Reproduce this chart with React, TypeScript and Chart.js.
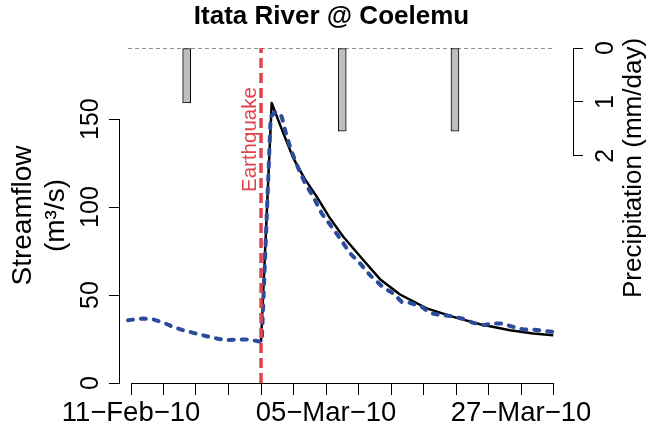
import React, { useEffect, useRef } from "react";
import { Chart, registerables } from "chart.js";

Chart.register(...registerables);

// ---- data (x = days since 11-Feb-10) ----
const obsDays = [-0.34, 1.39, 2.52, 3.64, 4.74, 5.9, 7.03, 8.54, 9.67, 10.8, 11.9, 13.05, 14.2, 14.75, 15.76, 16.36, 17.0, 17.57, 18.13, 18.87, 19.63, 20.57, 21.5, 22.64, 23.58, 24.71, 25.84, 26.96, 28.46, 29.59, 30.54, 31.47, 32.79, 33.73, 34.86, 36.18, 37.31, 38.62, 39.75, 40.87, 41.82, 43.13, 44.26, 45.39, 46.52, 47.83];
const obsFlow = [35.7, 36.7, 36.1, 34.4, 31.9, 30.0, 28.5, 26.6, 25.3, 24.3, 24.7, 24.7, 23.9, 23.3, 151.5, 154.2, 151.5, 140.1, 131.5, 122.1, 113.6, 105.9, 96.5, 88.8, 82.2, 73.7, 68.0, 61.3, 54.3, 50.9, 46.1, 45.6, 43.3, 39.9, 38.6, 38.0, 36.7, 34.2, 32.9, 33.8, 33.8, 31.9, 30.4, 30.4, 29.6, 28.9];

const simDays = [14.67, 15.87, 17.18, 18.31, 19.6, 20.95, 22.4, 23.95, 26.2, 28.09, 30.35, 33.36, 36.36, 39.37, 42.76, 45.39, 47.64];
const simFlow = [23.3, 159.1, 142.0, 127.8, 116.0, 105.9, 94.0, 83.1, 69.9, 59.0, 50.3, 42.4, 37.6, 33.4, 30.0, 28.1, 27.2];

const precipDays = [6.28, 23.83, 36.55];
const precipVals = [1.02, 1.54, 1.54];

const earthquakeDay = 14.67;

const xTickDays = [0, 3.667, 7.333, 11, 14.667, 18.333, 22, 25.667, 29.333, 33, 36.667, 40.333, 44, 47.667];
const xTickLabels = ["11\u2212Feb\u221210", "", "", "", "", "", "05\u2212Mar\u221210", "", "", "", "", "", "27\u2212Mar\u221210", ""];
const flowTicks = [0, 50, 100, 150];
const precipTicks = [0, 1, 2];

const FONT = "'Liberation Sans', Arial, Helvetica, sans-serif";
const RED = "#e0454f";
const BLUE = "#2b4c9b";

export default function App() {
  const ref = useRef<HTMLCanvasElement | null>(null);

  useEffect(() => {
    document.body.style.margin = "0";
    const canvas = ref.current;
    if (!canvas) return;

    Chart.defaults.font.family = FONT;
    Chart.defaults.color = "#000";

    const flowMax = 190.4;
    const precipMax = 6.21;
    const xMin = -1.241;
    const xMax = 49.865;

    const decor = {
      id: "decor",
      afterDraw(chart: any) {
        const ctx = chart.ctx as CanvasRenderingContext2D;
        const { x, y, y2 } = chart.scales;
        const ca = chart.chartArea;
        ctx.save();
        // R-style axis lines spanning only the tick range
        ctx.strokeStyle = "#000";
        ctx.lineWidth = 1;
        ctx.beginPath();
        const yb = Math.round(ca.bottom) + 0.5;
        ctx.moveTo(x.getPixelForValue(xTickDays[0]), yb);
        ctx.lineTo(x.getPixelForValue(xTickDays[xTickDays.length - 1]), yb);
        const xl = Math.round(ca.left) - 0.5;
        ctx.moveTo(xl, y.getPixelForValue(flowTicks[0]));
        ctx.lineTo(xl, y.getPixelForValue(flowTicks[flowTicks.length - 1]));
        const xr = Math.round(ca.right) + 0.5;
        ctx.moveTo(xr, y2.getPixelForValue(precipTicks[0]));
        ctx.lineTo(xr, y2.getPixelForValue(precipTicks[precipTicks.length - 1]));
        ctx.stroke();

        // main title
        ctx.fillStyle = "#000";
        ctx.font = `bold 26px ${FONT}`;
        ctx.textAlign = "center";
        ctx.textBaseline = "middle";
        ctx.fillText("Itata River @ Coelemu", 331.5, 17);

        // right axis title (reads bottom to top)
        ctx.save();
        ctx.translate(634, 168);
        ctx.rotate(-Math.PI / 2);
        ctx.font = `26px ${FONT}`;
        ctx.fillText("Precipitation (mm/day)", 0, 0);
        ctx.restore();

        // earthquake label
        const ex = x.getPixelForValue(earthquakeDay);
        ctx.save();
        ctx.translate(ex - 5, 192);
        ctx.rotate(-Math.PI / 2);
        ctx.fillStyle = RED;
        ctx.font = `20.5px ${FONT}`;
        ctx.textAlign = "left";
        ctx.textBaseline = "alphabetic";
        ctx.fillText("Earthquake", 0, 0);
        ctx.restore();

        ctx.restore();
      },
    };

    const chart = new Chart(canvas, {
      type: "line",
      data: {
        datasets: [
          {
            type: "line",
            data: [
              { x: earthquakeDay, y: 0 },
              { x: earthquakeDay, y: flowMax },
            ],
            yAxisID: "y",
            borderColor: RED,
            borderWidth: 3.5,
            borderDash: [10, 5],
            pointRadius: 0,
            order: 0,
          },
          {
            type: "line",
            data: obsDays.map((d, i) => ({ x: d, y: obsFlow[i] })),
            yAxisID: "y",
            borderColor: BLUE,
            borderWidth: 4,
            borderDash: [5, 8],
            borderCapStyle: "round",
            borderJoinStyle: "round",
            tension: 0,
            pointRadius: 0,
            order: 1,
          },
          {
            type: "line",
            data: simDays.map((d, i) => ({ x: d, y: simFlow[i] })),
            yAxisID: "y",
            borderColor: "#000",
            borderWidth: 2.5,
            borderJoinStyle: "round",
            tension: 0,
            pointRadius: 0,
            order: 2,
          },
          {
            type: "line",
            data: [
              { x: obsDays[0], y: 0 },
              { x: obsDays[obsDays.length - 1], y: 0 },
            ],
            yAxisID: "y2",
            borderColor: "#222",
            borderWidth: 1,
            borderDash: [4, 3],
            pointRadius: 0,
            order: 3,
          },
          {
            type: "bar",
            data: precipDays.map((d, i) => ({ x: d, y: precipVals[i] })),
            yAxisID: "y2",
            backgroundColor: "#bebebe",
            borderColor: "#000",
            borderWidth: 1,
            borderSkipped: false,
            barThickness: 8,
            order: 4,
          } as any,
        ],
      },
      options: {
        animation: false,
        responsive: true,
        maintainAspectRatio: false,
        layout: { padding: { top: 48, left: 0, right: 0, bottom: 0 } },
        plugins: {
          legend: { display: false },
          tooltip: { enabled: false },
          title: { display: false },
        },
        scales: {
          x: {
            type: "linear",
            min: xMin,
            max: xMax,
            offset: false,
            afterBuildTicks: (s: any) => {
              s.ticks = xTickDays.map((v) => ({ value: v }));
            },
            afterFit: (s: any) => {
              s.height = 50;
            },
            grid: {
              display: true,
              drawOnChartArea: false,
              drawTicks: true,
              tickLength: 12,
              color: "#000",
              lineWidth: 1,
              offset: false,
            },
            border: { display: false },
            ticks: {
              autoSkip: false,
              minRotation: 0,
              maxRotation: 0,
              padding: 2,
              color: "#000",
              font: { size: 27.5, family: FONT },
              callback: (_v: any, i: number) => xTickLabels[i],
            },
          },
          y: {
            type: "linear",
            position: "left",
            min: 0,
            max: flowMax,
            afterBuildTicks: (s: any) => {
              s.ticks = flowTicks.map((v) => ({ value: v }));
            },
            afterFit: (s: any) => {
              s.width = 120;
            },
            grid: { display: true, drawOnChartArea: false, tickLength: 11, color: "#000", lineWidth: 1 },
            border: { display: false },
            ticks: {
              autoSkip: false,
              minRotation: 90,
              maxRotation: 90,
              crossAlign: "center",
              padding: -3.2,
              color: "#000",
              font: { size: 25, family: FONT },
            },
            title: {
              display: true,
              text: ["Streamflow", "(m\u00b3/s)"],
              color: "#000",
              font: { size: 28, family: FONT, lineHeight: 1.2 },
              padding: { top: 6, bottom: 0 },
            },
          },
          y2: {
            type: "linear",
            position: "right",
            reverse: true,
            min: 0,
            max: precipMax,
            afterBuildTicks: (s: any) => {
              s.ticks = precipTicks.map((v) => ({ value: v }));
            },
            afterFit: (s: any) => {
              s.width = 75;
            },
            grid: { display: true, drawOnChartArea: false, tickLength: 10, color: "#000", lineWidth: 1 },
            border: { display: false },
            ticks: {
              autoSkip: false,
              minRotation: 90,
              maxRotation: 90,
              crossAlign: "center",
              padding: 16,
              color: "#000",
              font: { size: 25, family: FONT },
            },
          },
        },
      } as any,
      plugins: [decor],
    });

    return () => chart.destroy();
  }, []);

  return (
    <div style={{ width: 648, height: 433, position: "relative" }}>
      <canvas ref={ref} />
    </div>
  );
}
